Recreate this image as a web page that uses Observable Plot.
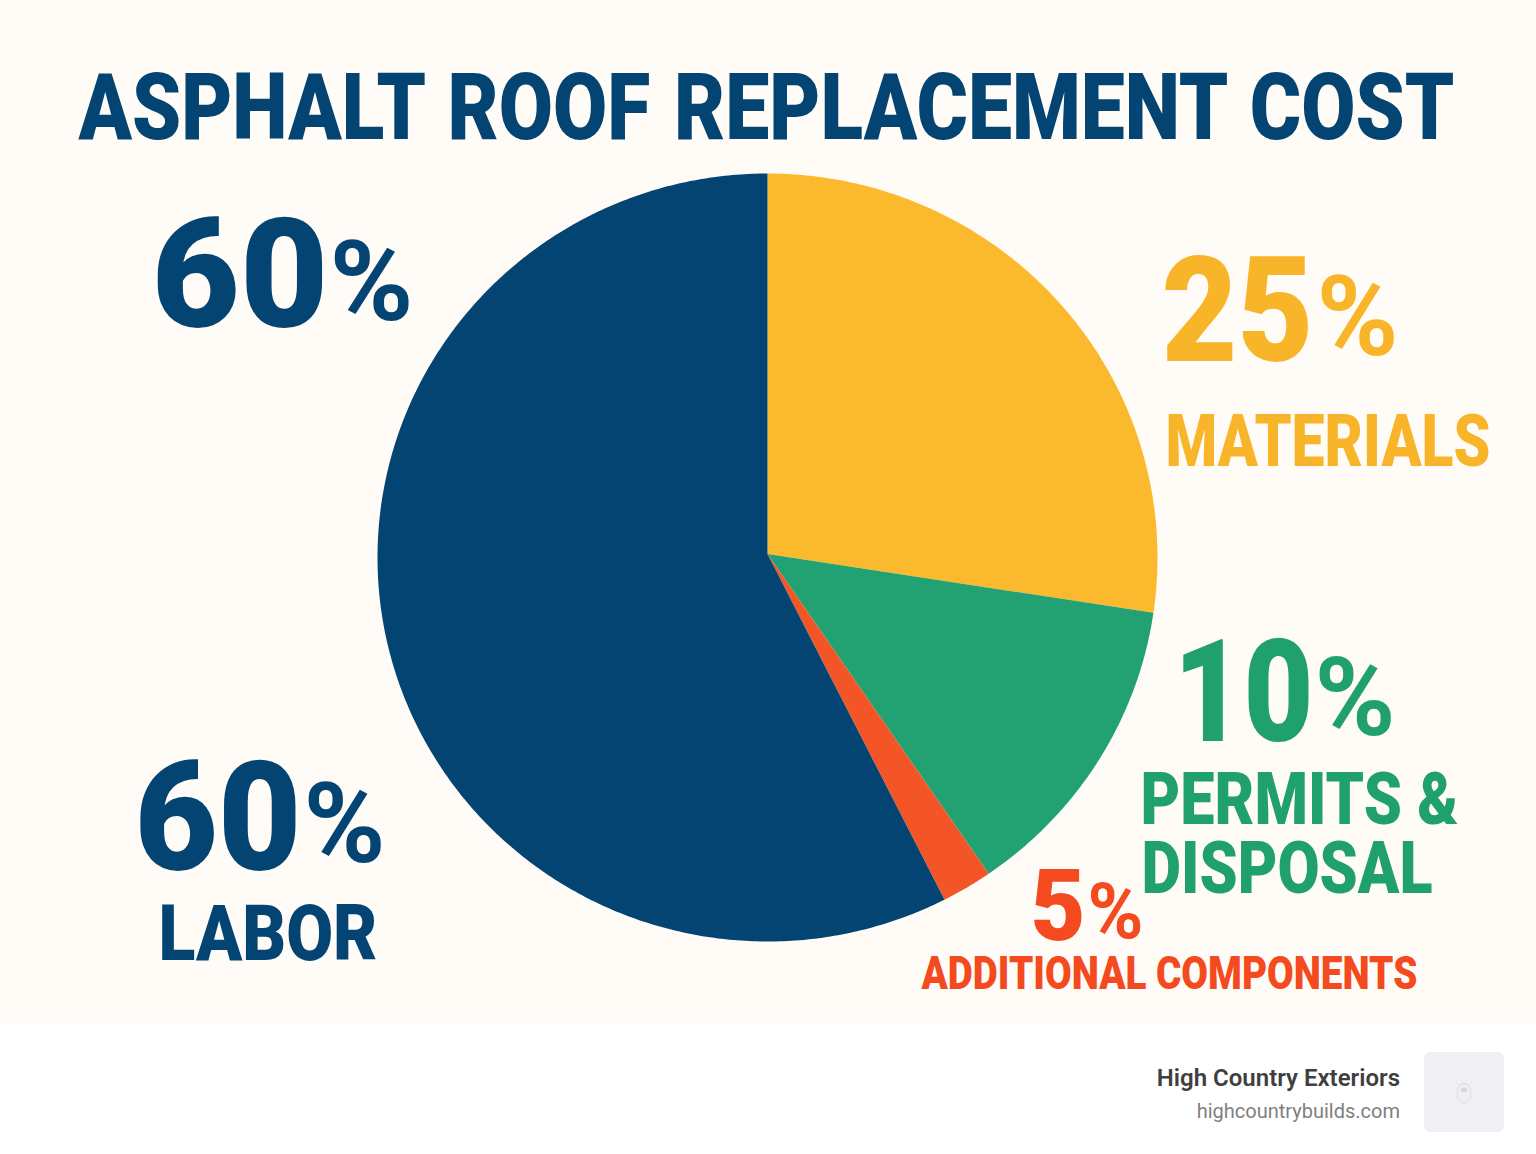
<!DOCTYPE html>
<html lang="en">
<head>
<meta charset="utf-8">
<title>Asphalt Roof Replacement Cost</title>
<script src="https://cdn.jsdelivr.net/npm/d3@7"></script>
<script src="https://cdn.jsdelivr.net/npm/@observablehq/plot@0.6"></script>
<style>
  html, body { margin: 0; padding: 0; background: #fff; }
  #page { position: relative; width: 1536px; height: 1154px; overflow: hidden; font-family: Roboto, sans-serif; }
  #chart svg { display: block; }
  .brand { position: absolute; right: 136px; text-align: right; white-space: nowrap; line-height: 1; }
  #brand-name { top: 1066px; font-size: 24px; font-weight: 600; color: #3f3f3f; }
  #brand-url { top: 1101px; font-size: 20px; font-weight: 400; color: #808080; }
  #logo { position: absolute; left: 1424px; top: 1052px; width: 80px; height: 80px; border-radius: 6px; background: #efeff4; }
</style>
</head>
<body>
<div id="page">
  <div id="chart"></div>
  <div class="brand" id="brand-name">High Country Exteriors</div>
  <div class="brand" id="brand-url">highcountrybuilds.com</div>
  <div id="logo">
    <svg width="80" height="80" viewBox="0 0 80 80" fill="none" stroke="#dcdce0" stroke-width="1">
      <ellipse cx="40" cy="41" rx="7" ry="9.5"/>
      <ellipse cx="40" cy="38" rx="3.5" ry="2.5" fill="#d8d8dc" stroke="none"/>
      <circle cx="32" cy="31" r="0.6" fill="#dcdce0" stroke="none"/>
      <circle cx="48" cy="31" r="0.6" fill="#dcdce0" stroke="none"/>
    </svg>
  </div>
</div>
<script>
// Data
const categories = ["Materials", "Permits & Disposal", "Additional Components", "Labor"];
const drawnShares = [27.3, 13.1, 2.1, 57.5];
const sliceColors = ["#FBBA2D", "#22A272", "#F45526", "#034473"];

const titleText = "ASPHALT ROOF REPLACEMENT COST";
const labelTexts = ["60", "%", "25", "%", "MATERIALS", "10", "%", "PERMITS &", "DISPOSAL", "5", "%", "ADDITIONAL COMPONENTS", "60", "%", "LABOR"];
const navyText = "#034473", amberText = "#F9B52A", greenText = "#21A06F", redText = "#F44A20";
const labelColors = [navyText, navyText, amberText, amberText, amberText, greenText, greenText, greenText, greenText, redText, redText, redText, navyText, navyText, navyText];

// Layout (pixels in the 1536 x 1023 panel)
const W = 1536, H = 1023;
const apex = [767, 553.5], centre = [767, 557], radii = [390, 384];
const layout = [
  // left, right, baseline, font size
  [78, 1454, 138, 93],
  [151, 328, 326, 152], [329, 413, 319, 112],
  [1161, 1313, 360, 146], [1316, 1398, 354, 112],
  [1165, 1490, 465, 73],
  [1173, 1313, 740, 142], [1314, 1395, 734, 110],
  [1140, 1458, 823, 72], [1141, 1432, 892, 72],
  [1030, 1085, 939, 100], [1087, 1143, 937, 77],
  [921, 1417, 988, 46],
  [134, 301, 869, 152], [303, 385, 861, 112],
  [158, 377, 959, 78]
];

const texts = [titleText, ...labelTexts];
const textColors = [navyText, ...labelColors];
const labels = texts.map((text, i) => ({
  text, color: textColors[i],
  x: layout[i][0], width: layout[i][1] - layout[i][0], y: layout[i][2], size: layout[i][3]
}));

// Slice outlines derived from the shares
const arcs = d3.pie().sort(null).value(d => d)(drawnShares);
const outline = arcs.flatMap((a, i) => {
  const n = Math.max(2, Math.ceil((a.endAngle - a.startAngle) / 0.01));
  const rim = d3.range(n + 1).map(k => {
    const t = a.startAngle + (a.endAngle - a.startAngle) * k / n;
    return {name: categories[i], x: centre[0] + radii[0] * Math.sin(t), y: centre[1] - radii[1] * Math.cos(t)};
  });
  return [{name: categories[i], x: apex[0], y: apex[1]}, ...rim];
});

const fig = Plot.plot({
  width: W,
  height: H,
  margin: 0,
  style: {background: "#FFFCF7", fontFamily: "Roboto, sans-serif"},
  x: {domain: [0, W], range: [0, W], axis: null},
  y: {domain: [0, H], range: [0, H], axis: null},
  color: {domain: categories, range: sliceColors},
  marks: [
    Plot.line(outline, {x: "x", y: "y", z: "name", fill: "name", stroke: "none"}),
    Plot.text(labels, {
      x: "x", y: "y", text: "text", fill: d => d.color,
      fontSize: d => d.size, fontWeight: 900,
      textAnchor: "start", lineAnchor: "bottom"
    })
  ]
});
document.getElementById("chart").appendChild(fig);

// Condense each label horizontally so it spans its measured width
fig.querySelectorAll('g[aria-label="text"] text').forEach((el, i) => {
  const d = labels[i];
  if (i === 0) el.style.wordSpacing = "5px";
  if (d.text === "%") el.style.fontWeight = 700;
  const natural = el.getComputedTextLength();
  el.setAttribute("transform", `translate(${d.x},${d.y}) scale(${d.width / natural},1)`);
});
</script>
</body>
</html>
